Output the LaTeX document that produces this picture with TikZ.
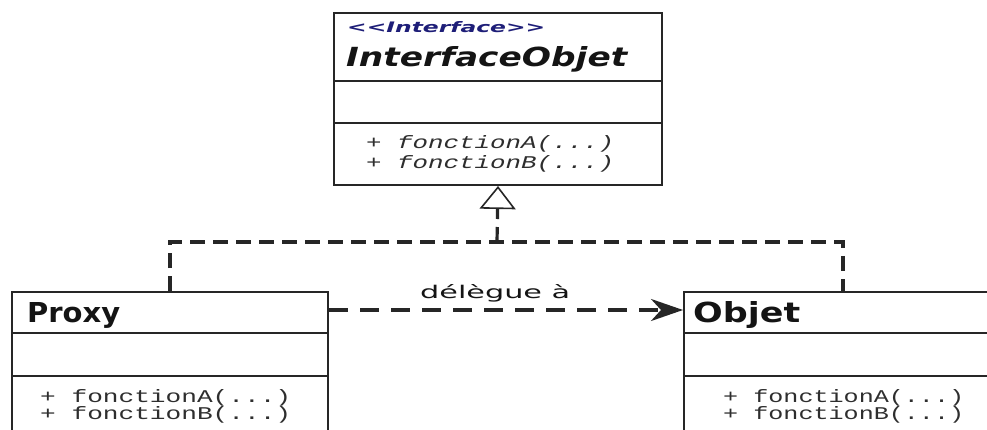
\documentclass[tikz,border=0pt]{standalone}
\usepackage{fontspec}
\usepackage{graphicx}
\usetikzlibrary{arrows.meta}
\setmainfont{DejaVu Sans}
\newfontfamily\monof{Liberation Mono}
\definecolor{edgec}{HTML}{262626}
\definecolor{stereoc}{HTML}{1E1E78}
\definecolor{txtc}{HTML}{141414}
\definecolor{methc}{HTML}{2E2E2E}
\begin{document}
\begin{tikzpicture}[x=1pt,y=-1pt,
  classbox/.style={draw=edgec, line width=2pt, fill=white, rectangle, inner sep=0pt, anchor=north west},
  divider/.style={draw=edgec, line width=1.8pt},
  lbl/.style={inner sep=0pt, anchor=base west, text=txtc},
  meth/.style={inner sep=0pt, anchor=base west, text=methc},
  realize/.style={draw=edgec, line width=3.2pt, dash pattern=on 15pt off 8pt},
  delegate/.style={draw=edgec, line width=3.2pt, dash pattern=on 19pt off 12pt}
]
\clip (0,0) rectangle (987,430);
\fill[white] (0,0) rectangle (987,430);

% class boxes
\node[classbox, minimum width=328pt, minimum height=172pt] (iface) at (333,12) {};
\node[classbox, minimum width=316pt, minimum height=170pt] (proxy) at (11,291) {};
\node[classbox, minimum width=318pt, minimum height=170pt] (objet) at (683,291) {};

% dividers
\draw[divider] (iface.west |- 0,81) -- (iface.east |- 0,81);
\draw[divider] (iface.west |- 0,123) -- (iface.east |- 0,123);
\draw[divider] (proxy.west |- 0,333) -- (proxy.east |- 0,333);
\draw[divider] (proxy.west |- 0,376) -- (proxy.east |- 0,376);
\draw[divider] (objet.west |- 0,333) -- (objet.east |- 0,333);
\draw[divider] (objet.west |- 0,376) -- (objet.east |- 0,376);

% texts
\node[lbl, text=stereoc] (st) at (347,33) {\resizebox{198pt}{11pt}{\bfseries\itshape {<}{<}Interface{>}{>}}};
\node[lbl] (ifname) at (346,67) {\resizebox{281pt}{20pt}{\bfseries\itshape InterfaceObjet}};
\node[meth] (im1) at (366,149) {\resizebox{248pt}{13pt}{\monof\itshape + fonctionA(...)}};
\node[meth] (im2) at (366,169) {\resizebox{248pt}{13pt}{\monof\itshape + fonctionB(...)}};

\node[lbl] (pname) at (27,322) {\resizebox{93pt}{20pt}{\bfseries Proxy}};
\node[meth] (pm1) at (40,402) {\resizebox{251pt}{13pt}{\monof + fonctionA(...)}};
\node[meth] (pm2) at (40,419) {\resizebox{251pt}{13pt}{\monof + fonctionB(...)}};

\node[lbl] (oname) at (693,322) {\resizebox{107pt}{21pt}{\bfseries Objet}};
\node[meth] (om1) at (723,402) {\resizebox{241pt}{13pt}{\monof + fonctionA(...)}};
\node[meth] (om2) at (723,419) {\resizebox{241pt}{13pt}{\monof + fonctionB(...)}};

% realization
\coordinate (jn) at (497,242);
\draw[realize] (proxy.north) |- (jn) -| (objet.north);
\draw[realize, -{Triangle[open, length=23pt, width=36pt, line width=1.6pt]}] (jn) -- (iface.south);

% delegation
\coordinate (dl) at (500,310);
\draw[delegate, -{Stealth[length=32pt, width=22pt, inset=10pt]}] (proxy.east |- dl) -- (objet.west |- dl);
\node[lbl] (dlab) at (420,298) {\resizebox{150pt}{14pt}{délègue à}};
\end{tikzpicture}
\end{document}
